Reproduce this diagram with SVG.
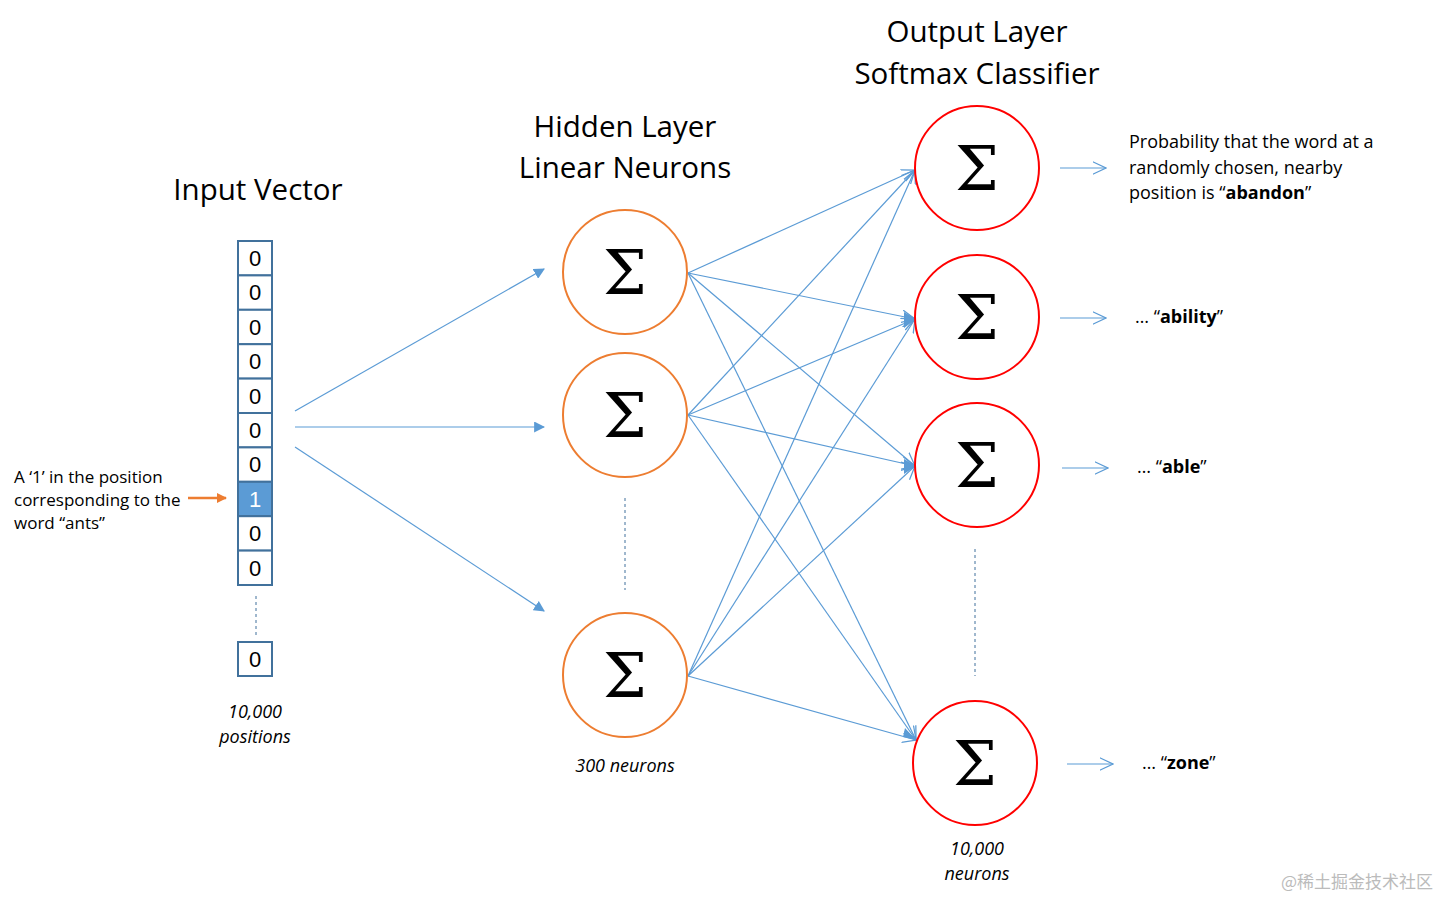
<svg xmlns="http://www.w3.org/2000/svg" width="1440" height="899" viewBox="0 0 1440 899">
<style>
.t{font-family:"Open Sans","Liberation Sans",sans-serif;fill:#000}
.h{font-size:29.5px}
.s{font-size:17px}
.r{font-size:18px}
.i{font-style:italic;font-size:18px;text-anchor:middle}
.d{font-family:"Liberation Sans",sans-serif;font-size:22px;text-anchor:middle}
.sig{font-family:"DejaVu Serif","Liberation Serif",serif;font-size:62px;text-anchor:middle;fill:#000}
.hid{fill:#fff;stroke:#ED7D31;stroke-width:2}
.out{fill:#fff;stroke:#FF0000;stroke-width:2}
.cell{fill:#fff;stroke:#41719C;stroke-width:2}
.c{stroke:#5B9BD5;stroke-width:1.2;fill:none}
.dash{stroke:#41719C;stroke-width:1;stroke-dasharray:3,3}
</style>
<defs>
<marker id="fa" viewBox="0 0 10 10" refX="9" refY="5" markerWidth="11" markerHeight="11" markerUnits="userSpaceOnUse" orient="auto"><path d="M0,0 L10,5 L0,10 z" fill="#5B9BD5"/></marker>
<marker id="oa" viewBox="0 0 10 10" refX="9.5" refY="5" markerWidth="14" markerHeight="14" markerUnits="userSpaceOnUse" orient="auto"><path d="M0,0.5 L9.5,5 L0,9.5" fill="none" stroke="#5B9BD5" stroke-width="0.9"/></marker>
<marker id="ob" viewBox="0 0 10 10" refX="9" refY="5" markerWidth="10" markerHeight="10" markerUnits="userSpaceOnUse" orient="auto"><path d="M0,0 L10,5 L0,10 z" fill="#ED7D31"/></marker>
</defs>

<g id="titles">
<text class="t h" x="258" y="200" text-anchor="middle">Input Vector</text>
<text class="t h" x="625" y="137" text-anchor="middle">Hidden Layer</text>
<text class="t h" x="625" y="178" text-anchor="middle">Linear Neurons</text>
<text class="t h" x="977" y="42" text-anchor="middle">Output Layer</text>
<text class="t h" x="977" y="84" text-anchor="middle">Softmax Classifier</text>
</g>

<g id="connectors">
<line class="c" x1="295" y1="411" x2="544" y2="269" marker-end="url(#fa)"/>
<line class="c" x1="295" y1="427" x2="544" y2="427" marker-end="url(#fa)"/>
<line class="c" x1="295" y1="447" x2="544" y2="611" marker-end="url(#fa)"/>
<line x1="188" y1="498" x2="226" y2="498" stroke="#ED7D31" stroke-width="2.5" marker-end="url(#ob)"/>
<line class="dash" x1="256" y1="596" x2="256" y2="636"/>
<line class="dash" x1="625" y1="498" x2="625" y2="590"/>
<line class="dash" x1="975" y1="549" x2="975" y2="676"/>
<g marker-end="url(#oa)">
<line class="c" x1="688" y1="273" x2="915" y2="170"/>
<line class="c" x1="688" y1="273" x2="915" y2="319"/>
<line class="c" x1="688" y1="273" x2="915" y2="466"/>
<line class="c" x1="688" y1="273" x2="916" y2="740"/>
<line class="c" x1="688" y1="415" x2="915" y2="170"/>
<line class="c" x1="688" y1="415" x2="915" y2="319"/>
<line class="c" x1="688" y1="415" x2="915" y2="466"/>
<line class="c" x1="688" y1="415" x2="916" y2="740"/>
<line class="c" x1="688" y1="676" x2="915" y2="170"/>
<line class="c" x1="688" y1="676" x2="915" y2="319"/>
<line class="c" x1="688" y1="676" x2="915" y2="466"/>
<line class="c" x1="688" y1="676" x2="916" y2="740"/>
<line class="c" x1="1060" y1="168" x2="1106" y2="168"/>
<line class="c" x1="1060" y1="318" x2="1106" y2="318"/>
<line class="c" x1="1062" y1="468" x2="1108" y2="468"/>
<line class="c" x1="1067" y1="764" x2="1113" y2="764"/>
</g>
<path d="M904,312 L916,319 L904,328 z M904,459 L916,466 L904,474 z M905,728 L916,740 L903,737 z" fill="#5B9BD5"/>
</g>

<g id="input-vector">
<rect class="cell" x="238" y="241" width="34" height="34.4"/>
<rect class="cell" x="238" y="275.4" width="34" height="34.4"/>
<rect class="cell" x="238" y="309.8" width="34" height="34.4"/>
<rect class="cell" x="238" y="344.2" width="34" height="34.4"/>
<rect class="cell" x="238" y="378.6" width="34" height="34.4"/>
<rect class="cell" x="238" y="413" width="34" height="34.4"/>
<rect class="cell" x="238" y="447.4" width="34" height="34.4"/>
<rect class="cell" x="238" y="481.8" width="34" height="34.4" style="fill:#5B9BD5"/>
<rect class="cell" x="238" y="516.2" width="34" height="34.4"/>
<rect class="cell" x="238" y="550.6" width="34" height="34.4"/>
<rect class="cell" x="238" y="642" width="34" height="34"/>
<text class="d" x="255" y="266">0</text>
<text class="d" x="255" y="300">0</text>
<text class="d" x="255" y="335">0</text>
<text class="d" x="255" y="369">0</text>
<text class="d" x="255" y="404">0</text>
<text class="d" x="255" y="438">0</text>
<text class="d" x="255" y="472">0</text>
<text class="d" x="255" y="507" style="fill:#fff">1</text>
<text class="d" x="255" y="541">0</text>
<text class="d" x="255" y="576">0</text>
<text class="d" x="255" y="667">0</text>
<text class="t i" x="255" y="718">10,000</text>
<text class="t i" x="255" y="743">positions</text>
</g>

<g id="input-note">
<text class="t s" x="14" y="483">A ‘1’ in the position</text>
<text class="t s" x="14" y="506">corresponding to the</text>
<text class="t s" x="14" y="529">word “ants”</text>
</g>

<g id="hidden-1"><circle class="hid" cx="625" cy="272" r="62"/><text class="sig" x="625" y="294">Σ</text></g>
<g id="hidden-2"><circle class="hid" cx="625" cy="415" r="62"/><text class="sig" x="625" y="437">Σ</text></g>
<g id="hidden-3"><circle class="hid" cx="625" cy="675" r="62"/><text class="sig" x="625" y="697">Σ</text></g>
<text class="t i" x="625" y="772">300 neurons</text>

<g id="out-1"><circle class="out" cx="977" cy="168" r="62"/><text class="sig" x="977" y="190">Σ</text></g>
<g id="out-2"><circle class="out" cx="977" cy="317" r="62"/><text class="sig" x="977" y="339">Σ</text></g>
<g id="out-3"><circle class="out" cx="977" cy="465" r="62"/><text class="sig" x="977" y="487">Σ</text></g>
<g id="out-4"><circle class="out" cx="975" cy="763" r="62"/><text class="sig" x="975" y="785">Σ</text></g>
<text class="t i" x="977" y="855">10,000</text>
<text class="t i" x="977" y="880">neurons</text>

<g id="output-labels">
<text class="t r" x="1129" y="148">Probability that the word at a</text>
<text class="t r" x="1129" y="174">randomly chosen, nearby</text>
<text class="t r" x="1129" y="199">position is “<tspan font-weight="bold">abandon</tspan>”</text>
<text class="t r" x="1135" y="323">… “<tspan font-weight="bold">ability</tspan>”</text>
<text class="t r" x="1137" y="473">… “<tspan font-weight="bold">able</tspan>”</text>
<text class="t r" x="1142" y="769">… “<tspan font-weight="bold">zone</tspan>”</text>
</g>

<text x="1433" y="888" text-anchor="end" style="font-family:'Noto Sans CJK SC',sans-serif;font-size:17px;fill:#bbb">@稀土掘金技术社区</text>
</svg>
